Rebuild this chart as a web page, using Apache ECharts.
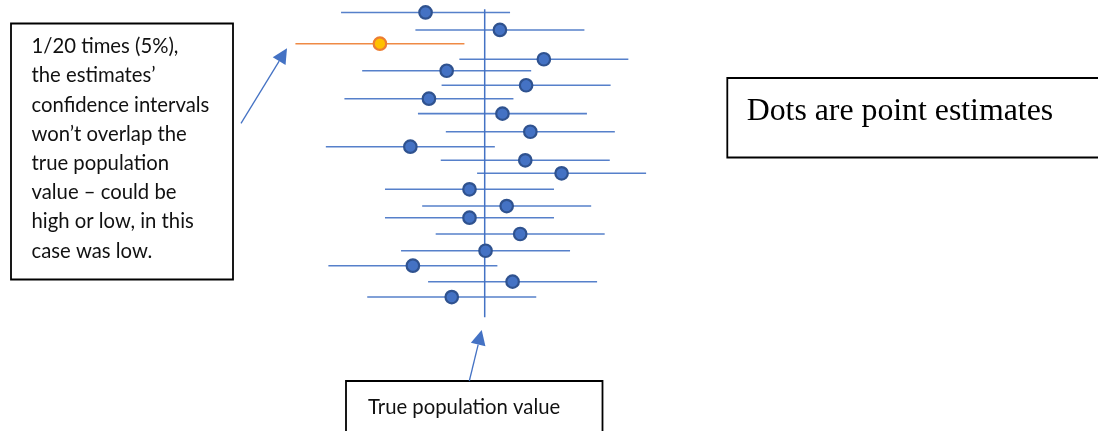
<!DOCTYPE html>
<html><head><meta charset="utf-8">
<script src="https://cdn.jsdelivr.net/npm/echarts@6/dist/echarts.min.js"></script>
<style>html,body{margin:0;padding:0;background:#fff}#c{width:1098px;height:431px}</style>
</head><body><div id="c"></div>
<script>
// Row positions of the 20 samples (vertical order, in row units)
const rowPos = [1.00, 2.17, 3.09, 4.13, 4.90, 5.87, 6.77, 7.77, 8.98, 9.98,
                10.89, 11.76, 12.83, 13.95, 14.73, 15.82, 16.94, 17.94, 19.01, 20.04];
// Point estimates of each sample
const estimates = [43.0, 51.8, 37.6, 57.0, 45.5, 54.9, 43.4, 52.1, 55.4, 41.2,
                   54.8, 59.1, 48.2, 52.6, 48.2, 54.2, 50.1, 41.5, 53.3, 46.1];
// Margin of error (half-width of each confidence interval)
const marginOfError = [10, 10, 10, 10, 10, 10, 10, 10, 10, 10,
                       10, 10, 10, 10, 10, 10, 10, 10, 10, 10];
const trueValue = 50;
const trueLineRows = [0.79, 21.39];

const BLUE = '#4472C4', BLUE_DARK = '#2F528F', ORANGE = '#ED7D31', GOLD = '#FFC000';

const intervals = estimates.map((e, i) => {
  const lo = e - marginOfError[i], hi = e + marginOfError[i];
  const miss = (hi < trueValue || lo > trueValue) ? 1 : 0;
  return [lo, hi, rowPos[i], miss];
});
const dots = estimates.map((e, i) => {
  const miss = intervals[i][3];
  return {
    value: [e, rowPos[i]],
    itemStyle: miss ? { color: GOLD, borderColor: ORANGE, borderWidth: 2.2, opacity: 1 }
                    : { color: BLUE, borderColor: BLUE_DARK, borderWidth: 2.2, opacity: 1 }
  };
});

function arrow(x1, y1, x2, y2, headLen, headHalf) {
  const dx = x2 - x1, dy = y2 - y1, L = Math.hypot(dx, dy);
  const ux = dx / L, uy = dy / L;
  const bx = x2 - ux * headLen, by = y2 - uy * headLen;
  const px = -uy, py = ux;
  return [
    { type: 'line', shape: { x1: x1, y1: y1, x2: bx, y2: by }, style: { stroke: BLUE, lineWidth: 1.3 } },
    { type: 'polygon', shape: { points: [[x2, y2], [bx + px * headHalf, by + py * headHalf], [bx - px * headHalf, by - py * headHalf]] },
      style: { fill: BLUE } }
  ];
}

const chart = echarts.init(document.getElementById('c'));
chart.setOption({
  animation: false,
  backgroundColor: '#fff',
  grid: { left: 62.2, right: 190.8, top: 5, bottom: 0 },
  xAxis: { type: 'value', min: 0, max: 100, show: false },
  yAxis: { type: 'value', min: 0.5, max: 29, inverse: true, show: false },
  series: [
    {
      type: 'line', data: trueLineRows.map(r => [trueValue, r]), symbol: 'none',
      lineStyle: { color: BLUE, width: 1.5 }, z: 1, silent: true
    },
    {
      type: 'custom', z: 2, data: intervals, encode: { x: [0, 1], y: 2 },
      renderItem: function (params, api) {
        const a = api.coord([api.value(0), api.value(2)]);
        const b = api.coord([api.value(1), api.value(2)]);
        return { type: 'line', shape: { x1: a[0], y1: a[1], x2: b[0], y2: b[1] },
          style: { stroke: api.value(3) ? ORANGE : BLUE, lineWidth: 1.6, opacity: 0.9 } };
      }
    },
    { type: 'scatter', z: 3, symbolSize: 12.5, data: dots }
  ],
  graphic: [
    { type: 'rect', shape: { x: 11, y: 23.5, width: 222, height: 256 },
      style: { fill: '#fff', stroke: '#000', lineWidth: 1.8 } },
    { type: 'text', x: 31.5, y: 32,
      style: { text: '1/20 times (5%),\nthe estimates’\nconfidence intervals\nwon’t overlap the\ntrue population\nvalue – could be\nhigh or low, in this\ncase was low.',
        font: '20.3px Lato, "Open Sans", sans-serif', lineHeight: 29.2, fill: '#111', verticalAlign: 'top' } },
    ...arrow(241, 123.3, 287, 48.3, 15, 7.5),
    { type: 'rect', shape: { x: 346, y: 381, width: 256.5, height: 60 },
      style: { fill: '#fff', stroke: '#000', lineWidth: 1.8 } },
    { type: 'text', x: 368, y: 407.5,
      style: { text: 'True population value', font: '20.3px Lato, "Open Sans", sans-serif', fill: '#111', verticalAlign: 'middle' } },
    ...arrow(469.3, 381, 481.7, 330, 15, 7.5),
    { type: 'rect', shape: { x: 727.3, y: 78, width: 380, height: 79.5 },
      style: { fill: '#fff', stroke: '#000', lineWidth: 1.8 } },
    { type: 'text', x: 746.7, y: 111.7,
      style: { text: 'Dots are point estimates', font: '31.8px "Liberation Serif", "Times New Roman", serif', fill: '#000', verticalAlign: 'middle' } }
  ]
});
</script>
</body></html>
